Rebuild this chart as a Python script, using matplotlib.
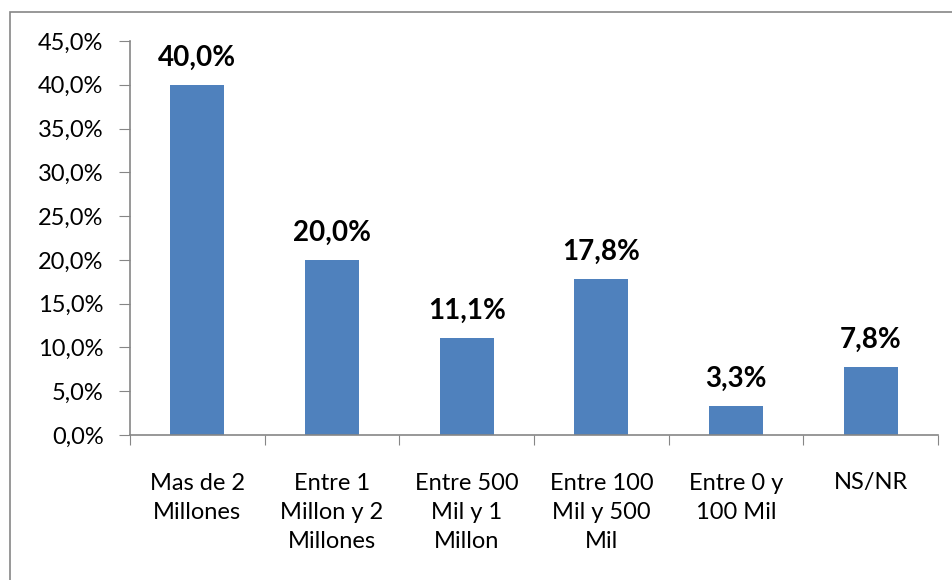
import matplotlib
matplotlib.use('Agg')
import matplotlib.pyplot as plt
from matplotlib.patches import Rectangle

categories = ['Mas de 2\nMillones', 'Entre 1\nMillon y 2\nMillones', 'Entre 500\nMil y 1\nMillon',
              'Entre 100\nMil y 500\nMil', 'Entre 0 y\n100 Mil', 'NS/NR']
values = [40.0, 20.0, 11.1, 17.8, 3.3, 7.8]
yticks = [0, 5, 10, 15, 20, 25, 30, 35, 40, 45]

plt.rcParams['font.family'] = ['Lato', 'DejaVu Sans']

W, H = 952, 580
fig = plt.figure(figsize=(W / 100, H / 100), dpi=100)
ax = fig.add_axes([130 / W, 1 - 435 / H, (938 - 130) / W, (435 - 41) / H])

grey = '#868686'
# chart frame
fig.patches.append(Rectangle((10 / W, -0.1), 1.2, 1 - 12 / H + 0.1, transform=fig.transFigure,
                             fill=False, edgecolor=grey, linewidth=1.2))

x = range(len(values))
ax.bar(x, values, width=0.4, color='#4F81BD', zorder=2)
for xi, v in zip(x, values):
    ax.annotate(f'{v:.1f}%'.replace('.', ','), (xi, v), xytext=(0, 10), textcoords='offset points',
                ha='center', va='bottom', fontsize=20, fontweight='bold', color='black')

ax.set_xlim(-0.5, len(values) - 0.5)
ax.set_ylim(0, 45)
ax.set_yticks(yticks)
ax.set_yticklabels([f'{t:.1f}%'.replace('.', ',') for t in yticks], fontsize=17)

ax.set_xticks([i + 0.5 for i in range(-1, len(values))], minor=False)
ax.set_xticklabels([])
ax.set_xticks(list(x), minor=True)
ax.set_xticklabels(categories, minor=True, fontsize=17, linespacing=1.5, va='top')
ax.tick_params(axis='x', which='minor', length=0, pad=27)
ax.tick_params(axis='x', which='major', length=7, color=grey, direction='out')
ax.tick_params(axis='y', length=8, color=grey, direction='out', pad=11)

for s in ['top', 'right']:
    ax.spines[s].set_visible(False)
for s in ['left', 'bottom']:
    ax.spines[s].set_color(grey)
    ax.spines[s].set_linewidth(1.2)

fig.savefig('out.png', dpi=100)
